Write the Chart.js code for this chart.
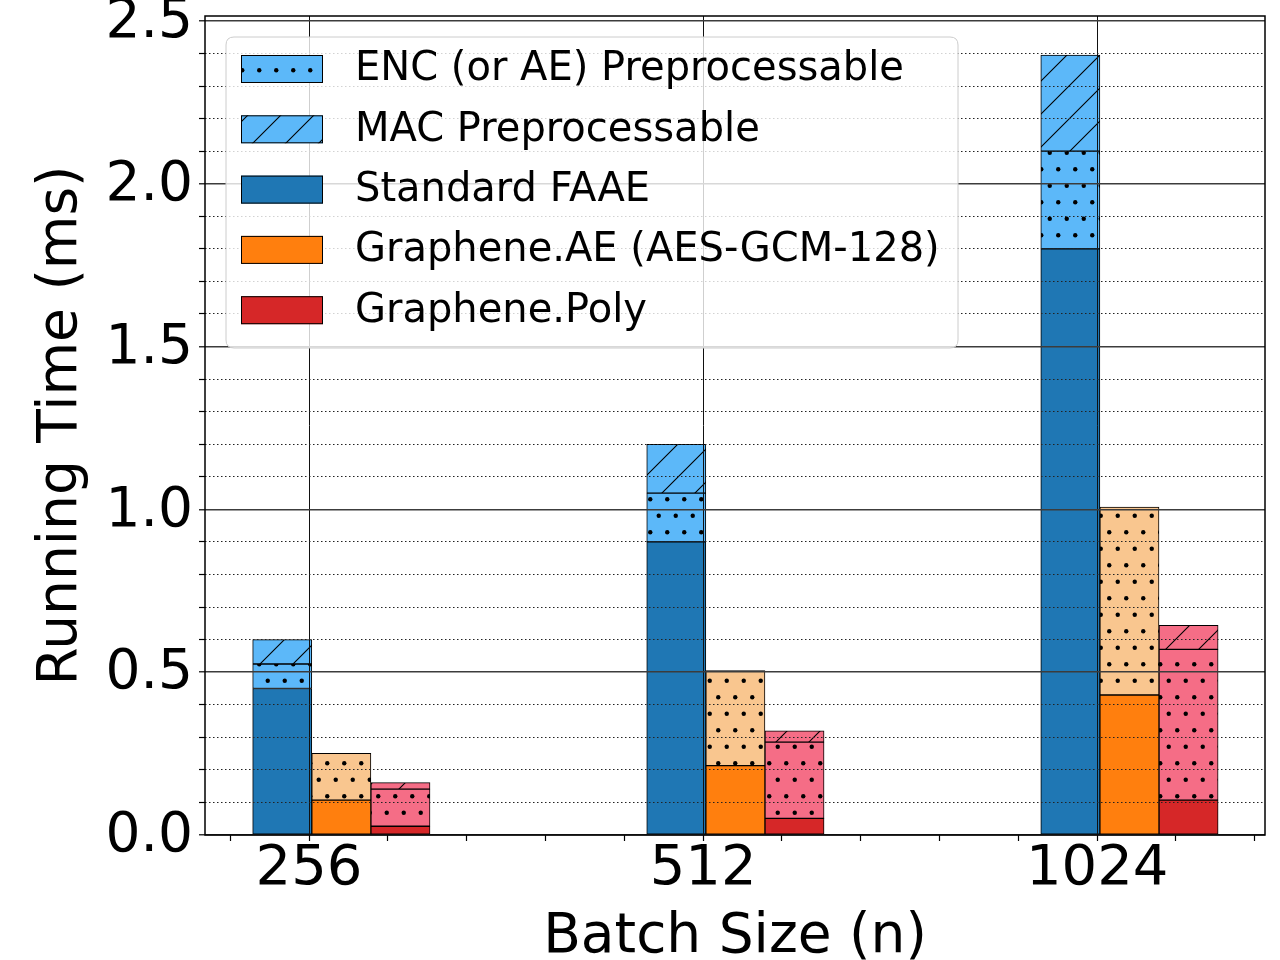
<!DOCTYPE html>
<html>
<head>
<meta charset="utf-8">
<script src="https://cdn.jsdelivr.net/npm/chart.js@4.4.0/dist/chart.umd.min.js"></script>
<style>
  html, body { margin: 0; padding: 0; background: #fff; }
  #wrap { width: 1280px; height: 960px; }
</style>
</head>
<body>
<div id="wrap"><canvas id="chart" width="1280" height="960"></canvas></div>
<script>
// batch sizes on the x axis
const categories = ['256', '512', '1024'];

// segment heights (ms), stacked bottom to top
const standardFaae = [0.45, 0.90, 1.80];
const faaeEncPre = [0.075, 0.15, 0.30];
const faaeMacPre = [0.075, 0.15, 0.295];

const grapheneAe = [0.107, 0.213, 0.43];
const aeEncPre = [0.144, 0.292, 0.577];

const graphenePoly = [0.027, 0.051, 0.107];
const polyEncPre = [0.114, 0.234, 0.463];
const polyMacPre = [0.02, 0.035, 0.074];

const yTickLabels = ['0.0', '0.5', '1.0', '1.5', '2.0', '2.5'];

const FONT = "'DejaVu Sans', sans-serif";
Chart.defaults.font.family = FONT;
Chart.defaults.color = '#000';

function dotPattern(base) {
  const w = 17, h = 33;
  const c = document.createElement('canvas');
  c.width = w; c.height = h;
  const g = c.getContext('2d');
  g.fillStyle = base;
  g.fillRect(0, 0, w, h);
  g.fillStyle = '#000';
  [[4.25, 4.25], [12.75, 20.75]].forEach(([x, y]) => {
    g.beginPath();
    g.arc(x, y, 2.2, 0, Math.PI * 2);
    g.fill();
  });
  return g.createPattern(c, 'repeat');
}

function hatchPattern(base) {
  const s = 33;
  const c = document.createElement('canvas');
  c.width = s; c.height = s;
  const g = c.getContext('2d');
  g.fillStyle = base;
  g.fillRect(0, 0, s, s);
  g.strokeStyle = '#000';
  g.lineWidth = 1.1;
  g.beginPath();
  g.moveTo(0, s); g.lineTo(s, 0);
  g.moveTo(-3, 3); g.lineTo(3, -3);
  g.moveTo(s - 3, s + 3); g.lineTo(s + 3, s - 3);
  g.stroke();
  return g.createPattern(c, 'repeat');
}

const lightBlue = '#5cb8f9';
const lightOrange = '#f9c68f';
const pink = '#f56d86';

// bar offsets relative to each category tick
const OFF_FAAE = -0.068, OFF_AE = 0.082, OFF_POLY = 0.232;

function seg(label, values, offset, fill) {
  return {
    label,
    data: values.map((v, i) => ({ x: i + offset, y: v })),
    backgroundColor: fill,
    borderColor: '#000',
    borderWidth: 1,
    borderSkipped: false,
  };
}

const datasets = [
  seg('Standard FAAE', standardFaae, OFF_FAAE, '#1f77b4'),
  seg('ENC (or AE) Preprocessable', faaeEncPre, OFF_FAAE, dotPattern(lightBlue)),
  seg('MAC Preprocessable', faaeMacPre, OFF_FAAE, hatchPattern(lightBlue)),
  seg('Graphene.AE (AES-GCM-128)', grapheneAe, OFF_AE, '#ff7f0e'),
  seg('AE preprocessable', aeEncPre, OFF_AE, dotPattern(lightOrange)),
  seg('Graphene.Poly', graphenePoly, OFF_POLY, '#d62728'),
  seg('Poly ENC preprocessable', polyEncPre, OFF_POLY, dotPattern(pink)),
  seg('Poly MAC preprocessable', polyMacPre, OFF_POLY, hatchPattern(pink)),
];
const legendOrder = [1, 2, 0, 3, 5];

const near = (a, b) => Math.abs(a - b) < 1e-6;
const isMajorY = (v) => near(v * 2, Math.round(v * 2));
const isIntX = (v) => near(v, Math.round(v));

const yTicks = [];
for (let k = 0; k <= 25; k++) yTicks.push(k / 10);
const xTicks = [];
for (let k = -1; k <= 12; k++) xTicks.push(k / 5);

function roundRect(ctx, x, y, w, h, r) {
  ctx.beginPath();
  ctx.moveTo(x + r, y);
  ctx.lineTo(x + w - r, y);
  ctx.quadraticCurveTo(x + w, y, x + w, y + r);
  ctx.lineTo(x + w, y + h - r);
  ctx.quadraticCurveTo(x + w, y + h, x + w - r, y + h);
  ctx.lineTo(x + r, y + h);
  ctx.quadraticCurveTo(x, y + h, x, y + h - r);
  ctx.lineTo(x, y + r);
  ctx.quadraticCurveTo(x, y, x + r, y);
  ctx.closePath();
}

const frameAndLegend = {
  id: 'frameAndLegend',
  afterDraw(chart) {
    const { ctx, chartArea: a } = chart;
    ctx.save();
    // axes frame
    ctx.strokeStyle = '#000';
    ctx.lineWidth = 1.5;
    ctx.strokeRect(a.left, a.top, a.right - a.left, a.bottom - a.top);

    // legend box
    const bx = a.left + 21, by = a.top + 21, bw = 732, bh = 311;
    roundRect(ctx, bx, by, bw, bh, 8);
    ctx.fillStyle = 'rgba(255,255,255,0.8)';
    ctx.fill();
    ctx.strokeStyle = '#cccccc';
    ctx.lineWidth = 1;
    ctx.stroke();

    ctx.font = '40px ' + FONT;
    ctx.textBaseline = 'middle';
    legendOrder.forEach((idx, k) => {
      const ds = chart.data.datasets[idx];
      const cy = by + 32 + k * 60.3;
      ctx.fillStyle = ds.backgroundColor;
      ctx.fillRect(bx + 15, cy - 14, 82, 28);
      ctx.strokeStyle = '#000';
      ctx.lineWidth = 1;
      ctx.strokeRect(bx + 15.5, cy - 13.5, 81, 27);
      ctx.fillStyle = '#000';
      ctx.fillText(ds.label, bx + 129, cy + 1);
    });
    ctx.restore();
  }
};

new Chart(document.getElementById('chart'), {
  type: 'bar',
  data: { datasets },
  options: {
    responsive: false,
    animation: false,
    grouped: false,
    barPercentage: 1,
    categoryPercentage: 1,
    layout: { padding: { top: 16, right: 15, left: 0, bottom: 0 } },
    plugins: { legend: { display: false }, tooltip: { enabled: false } },
    scales: {
      x: {
        type: 'linear',
        offset: false,
        min: -0.264,
        max: 2.426,
        afterBuildTicks: (s) => { s.ticks = xTicks.map((v) => ({ value: v })); },
        afterFit: (s) => { s.height = 125; s.paddingLeft = 0; s.paddingRight = 0; },
        ticks: {
          autoSkip: false,
          maxRotation: 0,
          padding: 0,
          font: { size: 56, lineHeight: 1 },
          color: '#000',
          callback: (v) => (isIntX(v) ? categories[Math.round(v)] : ''),
        },
        grid: {
          z: 1,
          offset: false,
          color: (c) => (c.tick && isIntX(c.tick.value) ? '#111' : 'rgba(0,0,0,0)'),
          lineWidth: 1,
          tickColor: '#000',
          tickWidth: 1.2,
          tickLength: 6,
        },
        border: { display: false },
        title: {
          display: true,
          text: 'Batch Size (n)',
          color: '#000',
          font: { size: 55, lineHeight: 0.8 },
          padding: 0,
        },
      },
      y: {
        type: 'linear',
        min: 0,
        max: 2.515,
        stacked: true,
        afterBuildTicks: (s) => { s.ticks = yTicks.map((v) => ({ value: v })); },
        afterFit: (s) => { s.width = 205; s.paddingTop = 0; s.paddingBottom = 0; },
        ticks: {
          autoSkip: false,
          padding: 6,
          labelOffset: 2,
          font: { size: 55 },
          color: '#000',
          callback: (v) => (isMajorY(v) ? yTickLabels[Math.round(v * 2)] : ''),
        },
        grid: {
          z: 1,
          color: (c) => (c.tick && isMajorY(c.tick.value) ? '#3c3c3c' : '#222'),
          lineWidth: (c) => (c.tick && isMajorY(c.tick.value) ? 1.6 : 1),
          tickColor: '#000',
          tickWidth: 1.2,
          tickLength: 6,
        },
        border: {
          display: false,
          dash: (c) => (c.tick && !isMajorY(c.tick.value) ? [1.5, 2.5] : []),
        },
        title: {
          display: true,
          text: 'Running Time (ms)',
          color: '#000',
          font: { size: 55 },
          padding: { top: 29, bottom: 0 },
        },
      },
    },
  },
  plugins: [frameAndLegend],
});
</script>
</body>
</html>
